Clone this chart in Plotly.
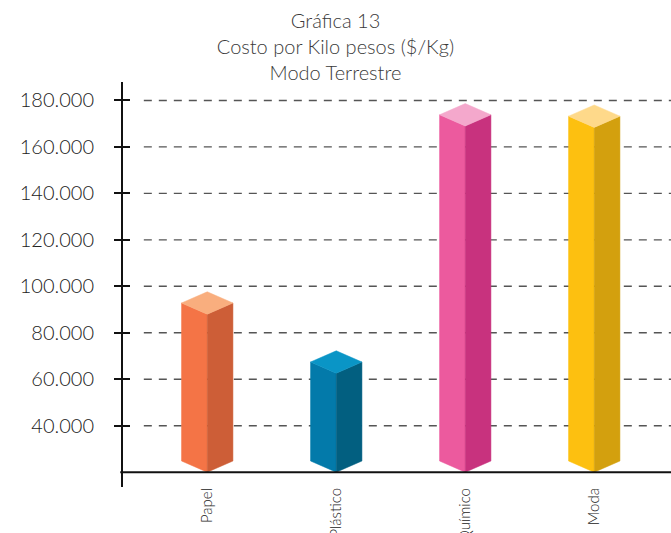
import plotly.graph_objects as go

# Cost per kilo (COP/kg), land transport
categories = ["Papel", "Plástico", "Químico", "Moda"]
values = [88000, 62600, 169000, 168400]
face_left = ["#F47446", "#037AAA", "#EC5A9E", "#FDC010"]
face_right = ["#CD5E37", "#025F80", "#C8327E", "#D3A00E"]
face_top = ["#F9AE7E", "#0A95C6", "#F4A8CC", "#FED98A"]

tick_values = [40000, 60000, 80000, 100000, 120000, 140000, 160000, 180000]
tick_text = ["40.000", "60.000", "80.000", "100.000", "120.000", "140.000", "160.000", "180.000"]

BASE = 20000
Y_RANGE = [13624, 187930]
X_RANGE = [-0.653, 3.595]

W, H = 671, 533
M = dict(l=123, r=0, t=82, b=46)
plot_w = W - M["l"] - M["r"]
plot_h = H - M["t"] - M["b"]

# prism geometry: pixel sizes converted into axis units
px_per_x = plot_w / (X_RANGE[1] - X_RANGE[0])
px_per_y = plot_h / (Y_RANGE[1] - Y_RANGE[0])
hw = 25.7 / px_per_x      # half width of the column
dv = 11.2 / px_per_y      # vertical drop of the isometric top

fig = go.Figure()

for i, (cat, v) in enumerate(zip(categories, values)):
    c = i
    left = dict(x=[c - hw, c, c, c - hw, c - hw], y=[BASE + dv, BASE, v, v + dv, BASE + dv])
    right = dict(x=[c, c + hw, c + hw, c, c], y=[BASE, BASE + dv, v + dv, v, BASE])
    top = dict(x=[c, c - hw, c, c + hw, c], y=[v, v + dv, v + 2 * dv, v + dv, v])
    for face, col in ((left, face_left[i]), (right, face_right[i]), (top, face_top[i])):
        fig.add_trace(go.Scatter(
            x=face["x"], y=face["y"], mode="lines", fill="toself",
            fillcolor=col, line=dict(color=col, width=0.5),
            hoverinfo="skip", showlegend=False, name=cat,
        ))

# helper trace for the inner half of the crossing tick marks
fig.add_trace(go.Scatter(x=[None], y=[None], yaxis="y2", showlegend=False, hoverinfo="skip"))

shapes = []
for tv in tick_values:
    shapes.append(dict(
        type="line", xref="paper", yref="y", x0=0.038, x1=1, y0=tv, y1=tv,
        line=dict(color="#555555", width=1.4, dash="8px,7px"), layer="below",
    ))
# horizontal axis line at the base value
shapes.append(dict(
    type="line", xref="paper", yref="y", x0=-0.005, x1=1, y0=BASE, y1=BASE,
    line=dict(color="#111111", width=2), layer="above",
))

font_family = "Lato"

fig.update_layout(
    width=W, height=H, margin=M,
    paper_bgcolor="white", plot_bgcolor="white",
    font=dict(family=font_family, color="#222222", weight=300),
    title=dict(
        text="Gráfica 13<br>Costo por Kilo pesos ($/Kg)<br>Modo Terrestre",
        x=0.5, xref="container", xanchor="center",
        y=1 - 28 / H, yref="container", yanchor="top",
        font=dict(family=font_family, size=20, color="#3a3a3a", weight=300),
    ),
    xaxis=dict(
        range=X_RANGE, tickvals=list(range(len(categories))), ticktext=categories,
        tickangle=-90, showline=False, showgrid=False, zeroline=False, ticks="",
        tickfont=dict(size=15, color="#222222", weight=300), fixedrange=True,
        automargin=False, ticklabelstandoff=-3,
    ),
    yaxis=dict(
        range=Y_RANGE, tickvals=tick_values, ticktext=tick_text,
        showline=True, linecolor="#111111", linewidth=2,
        ticks="outside", ticklen=7, tickwidth=2, tickcolor="#111111",
        showgrid=False, zeroline=False, ticklabelstandoff=16,
        tickfont=dict(size=20, color="#222222", weight=300),
        automargin=False,
    ),
    yaxis2=dict(
        range=Y_RANGE, overlaying="y", side="left", anchor="x",
        tickvals=tick_values, showticklabels=False, ticks="inside",
        ticklen=7, tickwidth=2, tickcolor="#111111",
        showline=False, showgrid=False, zeroline=False,
    ),
    shapes=shapes,
    showlegend=False,
)

fig.write_html("out.html")
